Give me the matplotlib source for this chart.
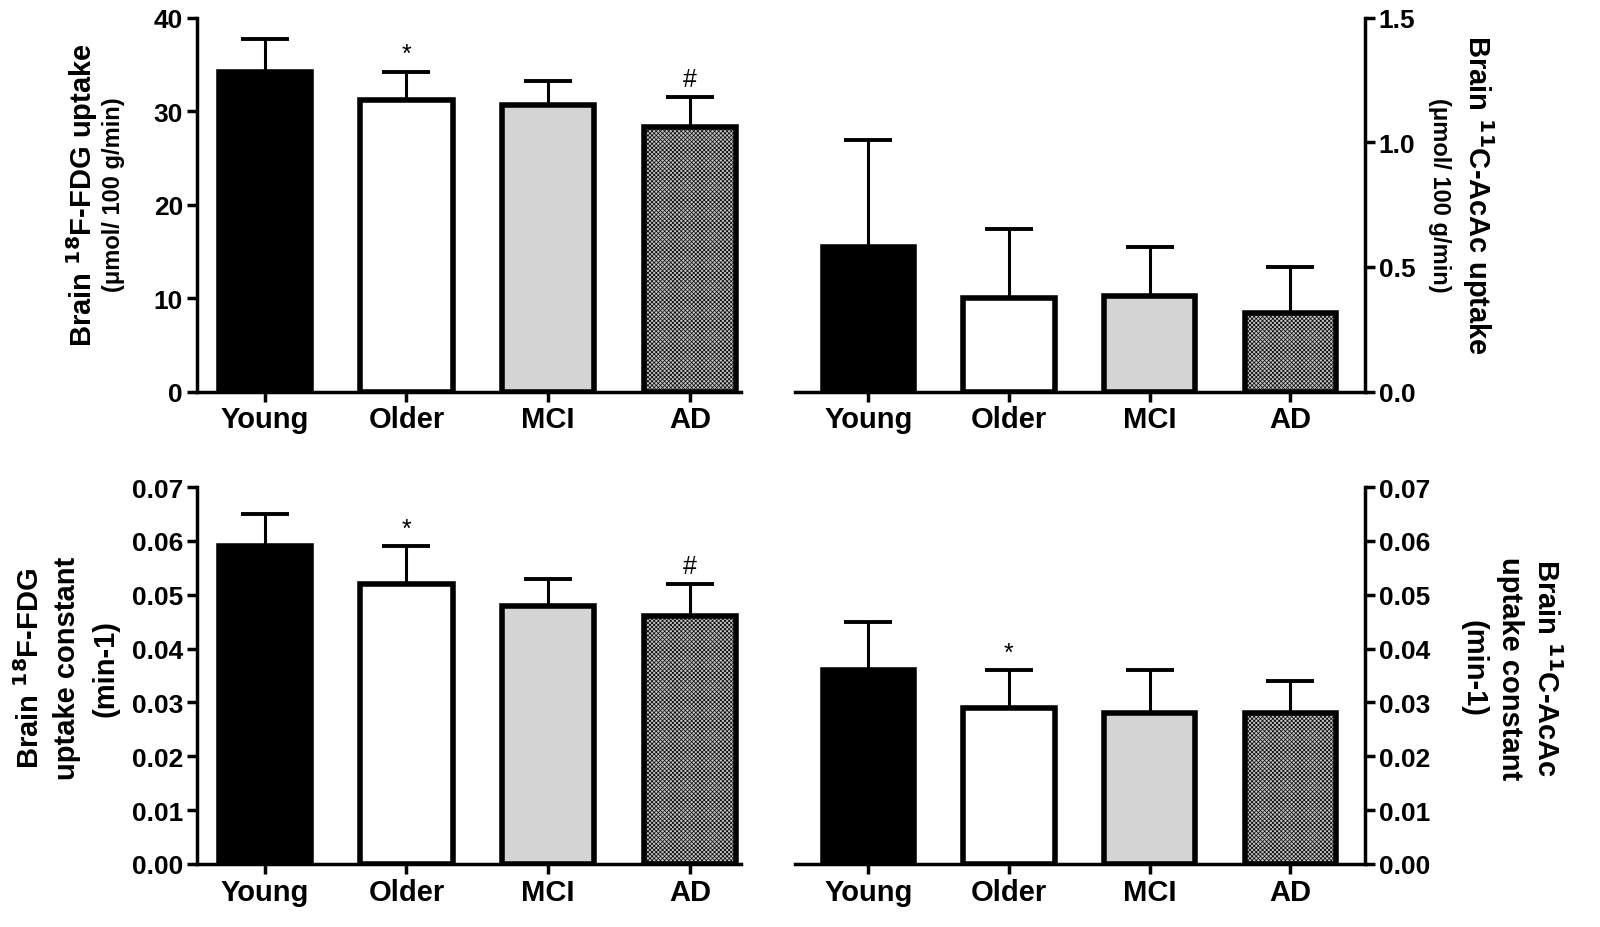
import matplotlib
matplotlib.use("Agg")
import matplotlib.pyplot as plt
import numpy as np

plt.rcParams['font.family'] = ['Liberation Sans', 'DejaVu Sans']
plt.rcParams['hatch.linewidth'] = 0.5

groups = ["Young", "Older", "MCI", "AD"]

fdg_uptake = [34.2, 31.2, 30.6, 28.3]
fdg_uptake_sd = [3.5, 3.0, 2.6, 3.2]

acac_uptake = [0.58, 0.375, 0.385, 0.315]
acac_uptake_sd = [0.43, 0.275, 0.195, 0.185]

fdg_const = [0.059, 0.052, 0.048, 0.046]
fdg_const_sd = [0.006, 0.007, 0.005, 0.006]

acac_const = [0.036, 0.029, 0.028, 0.028]
acac_const_sd = [0.009, 0.007, 0.008, 0.006]

# significance marks over the error caps
fdg_marks = ["", "*", "", "#"]
acac_uptake_marks = ["", "", "", ""]
acac_const_marks = ["", "*", "", ""]

colors = ["black", "white", "#d4d4d4", "#c4c4c4"]
hatches = [None, None, None, "xxxxxxxx"]


def draw_panel(ax, means, sds, ylim, yticks, fmt, side, marks, xlim):
    x = np.arange(len(groups))
    bars = ax.bar(x, means, width=0.65, color=colors, edgecolor="black",
                  linewidth=4, zorder=2)
    for b, h in zip(bars, hatches):
        if h:
            b.set_hatch(h)
    ax.errorbar(x, means, yerr=[np.zeros(len(means)), sds], fmt="none",
                ecolor="black", elinewidth=2.2, capsize=17, capthick=2.8,
                zorder=1)
    for xi, m, s, mk in zip(x, means, sds, marks):
        if mk:
            ax.text(xi, m + s + (ylim[1] * 0.015), mk, ha="center", va="bottom",
                    fontsize=18)
    ax.set_ylim(*ylim)
    ax.set_xlim(*xlim)
    ax.set_yticks(yticks)
    ax.set_yticklabels([fmt.format(t) for t in yticks], fontsize=19,
                       fontweight="bold")
    ax.set_xticks(x)
    ax.set_xticklabels(groups, fontsize=21, fontweight="bold")
    ax.spines["top"].set_visible(False)
    if side == "left":
        ax.spines["right"].set_visible(False)
    else:
        ax.spines["left"].set_visible(False)
        ax.yaxis.tick_right()
    for sp in ax.spines.values():
        sp.set_linewidth(2.5)
    ax.tick_params(axis="both", width=2.5, length=7, pad=3)


fig = plt.figure(figsize=(16, 9.28), dpi=100)

ax1 = fig.add_axes([0.123, 0.577, 0.340, 0.403])
ax2 = fig.add_axes([0.497, 0.577, 0.356, 0.403])
ax3 = fig.add_axes([0.123, 0.068, 0.340, 0.406])
ax4 = fig.add_axes([0.497, 0.068, 0.356, 0.406])

draw_panel(ax1, fdg_uptake, fdg_uptake_sd, (0, 40), [0, 10, 20, 30, 40], "{:.0f}",
           "left", fdg_marks, (-0.48, 3.36))
draw_panel(ax2, acac_uptake, acac_uptake_sd, (0, 1.5), [0, 0.5, 1.0, 1.5], "{:.1f}",
           "right", acac_uptake_marks, (-0.52, 3.53))
const_ticks = [0, 0.01, 0.02, 0.03, 0.04, 0.05, 0.06, 0.07]
draw_panel(ax3, fdg_const, fdg_const_sd, (0, 0.07), const_ticks, "{:.2f}",
           "left", fdg_marks, (-0.48, 3.36))
draw_panel(ax4, acac_const, acac_const_sd, (0, 0.07), const_ticks, "{:.2f}",
           "right", acac_const_marks, (-0.52, 3.53))

# axis titles
fig.text(0.051, 0.79, "Brain $^{\\mathbf{18}}$F-FDG uptake", rotation=90,
         ha="center", va="center", fontsize=21, fontweight="bold")
fig.text(0.071, 0.79, "(\u03bcmol/ 100 g/min)", rotation=90,
         ha="center", va="center", fontsize=17, fontweight="bold")

fig.text(0.924, 0.79, "Brain $^{\\mathbf{11}}$C-AcAc uptake", rotation=270,
         ha="center", va="center", fontsize=21, fontweight="bold")
fig.text(0.900, 0.79, "(\u03bcmol/ 100 g/min)", rotation=270,
         ha="center", va="center", fontsize=17, fontweight="bold")

fig.text(0.019, 0.28, "Brain $^{\\mathbf{18}}$F-FDG", rotation=90,
         ha="center", va="center", fontsize=21, fontweight="bold")
fig.text(0.042, 0.28, "uptake constant", rotation=90,
         ha="center", va="center", fontsize=21, fontweight="bold")
fig.text(0.066, 0.28, "(min-1)", rotation=90,
         ha="center", va="center", fontsize=21, fontweight="bold")

fig.text(0.966, 0.28, "Brain $^{\\mathbf{11}}$C-AcAc", rotation=270,
         ha="center", va="center", fontsize=21, fontweight="bold")
fig.text(0.944, 0.28, "uptake constant", rotation=270,
         ha="center", va="center", fontsize=21, fontweight="bold")
fig.text(0.921, 0.28, "(min-1)", rotation=270,
         ha="center", va="center", fontsize=21, fontweight="bold")

fig.savefig("out.png", dpi=100)
